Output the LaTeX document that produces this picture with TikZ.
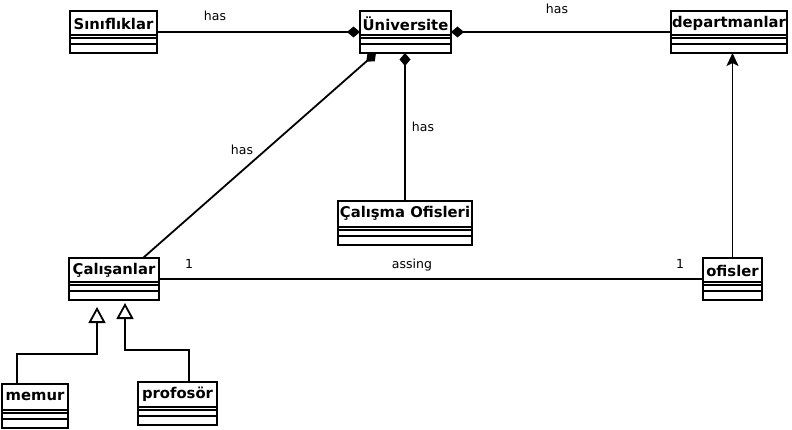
\documentclass[tikz,border=0pt]{standalone}
\usepackage{fontspec}
\setmainfont{DejaVu Sans}
\usetikzlibrary{arrows.meta,calc}
\tikzset{
  clsbox/.style={draw, line width=2pt, fill=white, inner sep=0pt, outer sep=0pt},
  clstitle/.style={font=\bfseries\fontsize{14.8}{17}\selectfont, inner sep=0pt},
  clsline/.style={line width=1.6pt},
  conn/.style={line width=1.8pt},
  lbl/.style={font=\fontsize{12.5}{14}\selectfont, inner sep=0pt},
  comp/.style={-{Diamond[length=13pt,width=11pt]}},
  gen/.style={-{Triangle[open,length=16pt,width=17pt,line width=1.8pt]}},
  nav/.style={-{Stealth[length=13pt,width=12pt,inset=3pt]}}
}
\newcommand\umlclass[6]{%
  \node[clsbox, minimum width={(#4-#2)*1pt}, minimum height={(#5-#3)*1pt}] (#1) at ({(#2+#4)/2},{(#3+#5)/2}) {};
  \node[clstitle] (#1-t) at ($(#1.north)+(0,12.5)$) {#6};
  \draw[clsline] ($(#1.south west)+(0,-18)$) -- ($(#1.south east)+(0,-18)$);
  \draw[clsline] ($(#1.south west)+(0,-15)$) -- ($(#1.south east)+(0,-15)$);
  \draw[clsline] ($(#1.south west)+(0,-9)$) -- ($(#1.south east)+(0,-9)$);
}
\begin{document}
\begin{tikzpicture}[x=1pt,y=-1pt]
\useasboundingbox (0,0) rectangle (792,430);
\umlclass{sin}{70}{11}{157}{53}{Sınıflıklar}
\umlclass{uni}{360}{11}{451}{53}{Üniversite}
\umlclass{dep}{671}{11}{787}{53}{departmanlar}
\umlclass{cal}{338}{201}{472}{245}{Çalışma Ofisleri}
\umlclass{emp}{69}{258}{159}{300}{Çalışanlar}
\umlclass{ofi}{703}{258}{762}{300}{ofisler}
\umlclass{mem}{2}{384}{68}{428}{memur}
\umlclass{pro}{138}{382}{217}{425}{profosör}

% associations
\draw[conn,comp] (sin.east) -- (uni.west);
\draw[conn,comp] (dep.west) -- (uni.east);
\draw[conn,comp] ($(emp.north west)+(74,0)$) -- ($(uni.south west)+(16,0)$);
\draw[conn,comp] (cal.north) -- (cal.north |- uni.south);
\draw[conn] (emp.east) -- (ofi.west);
\draw[conn,nav] (ofi.north) -- (ofi.north |- dep.south);
\draw[conn,gen] ($(mem.north west)+(15,0)$) |- (97,354) -- (97,307);
\draw[conn,gen] ($(pro.north west)+(51,0)$) |- (125,350) -- (125,303);

% labels
\node[lbl] (l1) at (215,16) {has};
\node[lbl] (l2) at (557,9) {has};
\node[lbl] (l3) at (242,150) {has};
\node[lbl] (l4) at (423,127) {has};
\node[lbl] (l5) at (189,264) {1};
\node[lbl] (l6) at (412,265) {assing};
\node[lbl] (l7) at (680,264) {1};
\end{tikzpicture}
\end{document}
